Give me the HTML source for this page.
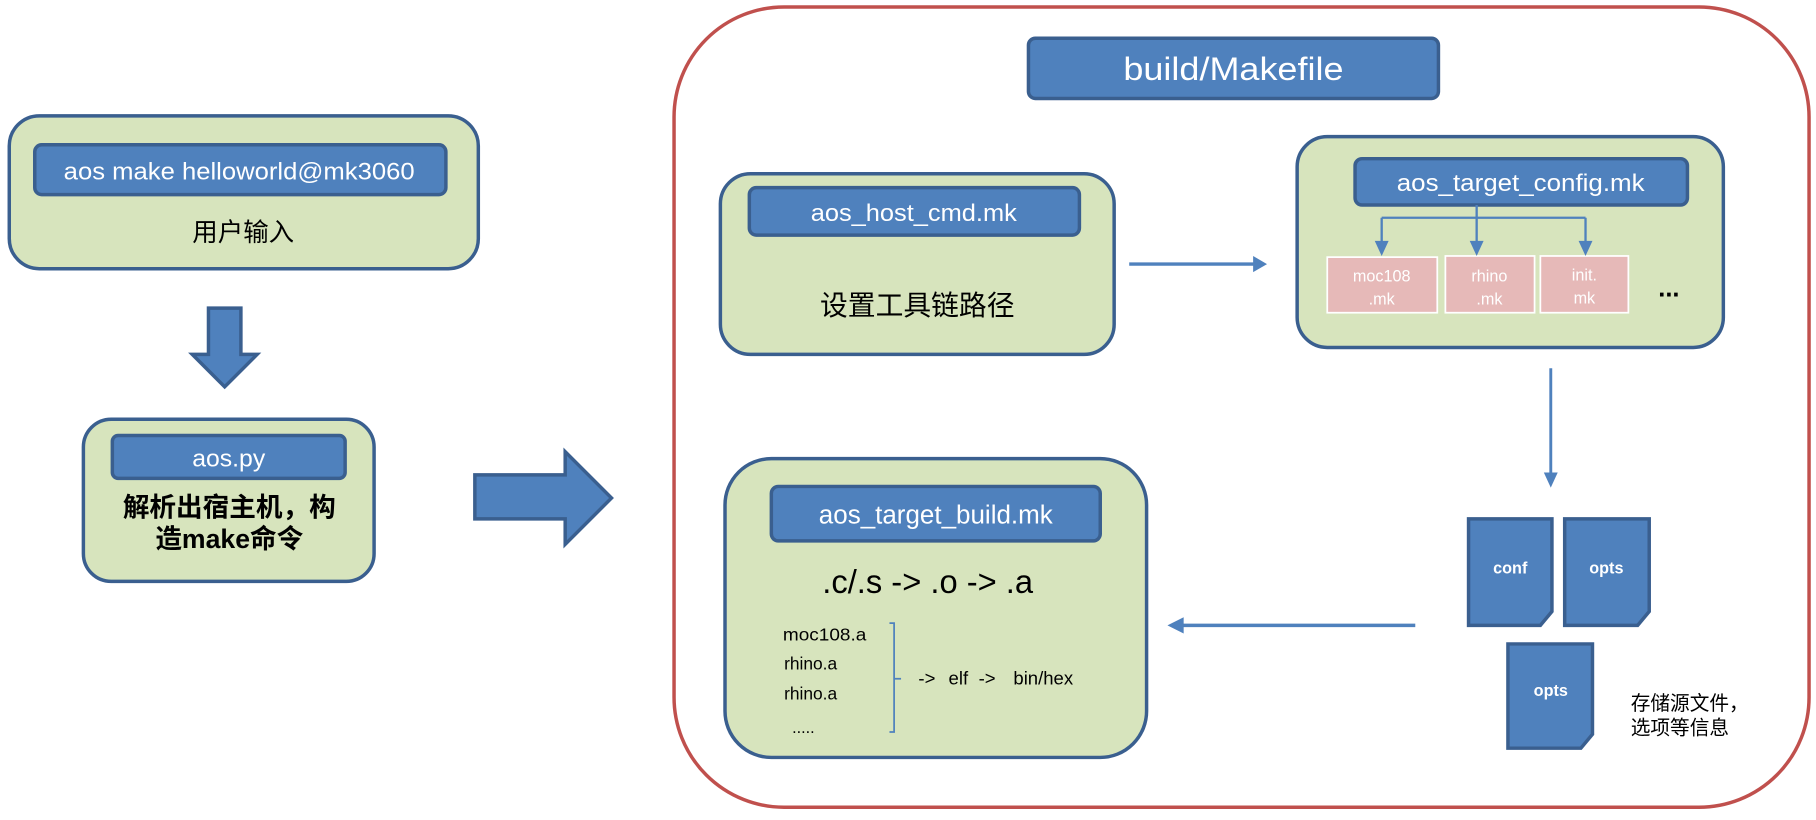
<!DOCTYPE html>
<html><head><meta charset="utf-8"><style>html,body{margin:0;padding:0;background:#fff;width:1816px;height:820px;overflow:hidden}svg text{font-family:"Liberation Sans","Noto Sans CJK SC",sans-serif}</style></head><body>
<svg width="1816" height="820" viewBox="0 0 1568 708" xmlns="http://www.w3.org/2000/svg">
<g stroke="#3a5f8f" stroke-width="3">
<rect x="8" y="100" width="405" height="132" rx="26" fill="#d7e4bd"/>
<rect x="30" y="125" width="355" height="43" rx="6" fill="#4f81bd"/>
<path d="M180 266 H208 V306 H222 L194 334 L166 306 H180 Z" fill="#4f81bd"/>
<rect x="72" y="362" width="251" height="140" rx="24" fill="#d7e4bd"/>
<rect x="97" y="376" width="201" height="37" rx="5" fill="#4f81bd"/>
<path d="M410 410 H488 V390 L528 430 L488 470 V448 H410 Z" fill="#4f81bd"/>
</g>
<rect x="582" y="6" width="980" height="691" rx="95" fill="none" stroke="#c0504d" stroke-width="3"/>
<g stroke="#3a5f8f" stroke-width="3">
<rect x="888" y="33" width="354" height="52" rx="6" fill="#4f81bd"/>
<rect x="622" y="150" width="340" height="156" rx="26" fill="#d7e4bd"/>
<rect x="647" y="162" width="285" height="41" rx="6" fill="#4f81bd"/>
<rect x="1120" y="118" width="368" height="182" rx="26" fill="#d7e4bd"/>
<rect x="1170" y="137" width="287" height="40" rx="6" fill="#4f81bd"/>
<rect x="626" y="396" width="364" height="258" rx="40" fill="#d7e4bd"/>
<rect x="666" y="420" width="284" height="47" rx="6" fill="#4f81bd"/>
<path d="M1268 448 H1340 V528 L1330 540 H1268 Z" fill="#4f81bd"/>
<path d="M1351 448 H1424 V528 L1414 540 H1351 Z" fill="#4f81bd"/>
<path d="M1302 556 H1375 V634 L1365 646 H1302 Z" fill="#4f81bd"/>
</g>
<g fill="#e6b9b8" stroke="#fff" stroke-width="1.5">
<rect x="1146" y="222" width="95" height="48"/>
<rect x="1248" y="221" width="77" height="49"/>
<rect x="1330" y="221" width="76" height="49"/>
</g>
<g stroke="#4f81bd" stroke-width="2" fill="none">
<path d="M1275 177 V212 M1193 188 H1369 M1193 188 V210 M1369 188 V210"/>
<path d="M975 228 H1084" stroke-width="3"/>
<path d="M1339 318 V410" stroke-width="2.5"/>
<path d="M1020 540 H1222" stroke-width="3"/>
<path d="M768 538 H772 V632 H768 M772 586 H778" stroke-width="1.5"/>
</g>
<g fill="#4f81bd">
<path d="M1187 208 H1199 L1193 221 Z M1269 208 H1281 L1275 221 Z M1363 208 H1375 L1369 221 Z"/>
<path d="M1082 221 L1094 228 L1082 235 Z"/>
<path d="M1333 408 L1345 408 L1339 421 Z"/>
<path d="M1022 533 L1008 540 L1022 547 Z"/>
</g>
<g fill="#fff">
<text x="55" y="155" font-size="21" textLength="303" lengthAdjust="spacingAndGlyphs">aos make helloworld@mk3060</text>
<text x="166" y="403" font-size="21" textLength="63" lengthAdjust="spacingAndGlyphs">aos.py</text>
<text x="970" y="69" font-size="28" textLength="190" lengthAdjust="spacingAndGlyphs">build/Makefile</text>
<text x="700" y="191" font-size="21" textLength="178" lengthAdjust="spacingAndGlyphs">aos_host_cmd.mk</text>
<text x="1206" y="165" font-size="21" textLength="214" lengthAdjust="spacingAndGlyphs">aos_target_config.mk</text>
<text x="707" y="452" font-size="22" textLength="202" lengthAdjust="spacingAndGlyphs">aos_target_build.mk</text>
<g text-anchor="middle">
<text x="1193" y="243" font-size="14">moc108</text><text x="1193" y="263" font-size="14">.mk</text>
<text x="1286" y="243" font-size="14">rhino</text><text x="1286" y="263" font-size="14">.mk</text>
<text x="1368" y="242" font-size="14">init.</text><text x="1368" y="262" font-size="14">mk</text>
<g font-weight="bold" font-size="14"><text x="1304" y="495">conf</text><text x="1387" y="495">opts</text><text x="1339" y="601">opts</text></g>
</g>
</g>
<g fill="#000" text-anchor="middle">
<text x="210" y="208" font-size="22">用户输入</text>
<text x="198" y="446" font-size="23" font-weight="bold">解析出宿主机，构</text>
<text x="198" y="473" font-size="23" font-weight="bold">造make命令</text>
<text x="792" y="272" font-size="24">设置工具链路径</text>
<text x="1441" y="256" font-size="22" font-weight="bold">...</text>
</g>
<g fill="#000">
<text x="710" y="512" font-size="29" textLength="182" lengthAdjust="spacingAndGlyphs">.c/.s -&gt; .o -&gt; .a</text>
<text x="676" y="553" font-size="15" textLength="72" lengthAdjust="spacingAndGlyphs">moc108.a</text>
<text x="677" y="578" font-size="15">rhino.a</text>
<text x="677" y="604" font-size="15">rhino.a</text>
<text x="684" y="633" font-size="14">.....</text>
<text y="591" font-size="16"><tspan x="793">-&gt;</tspan><tspan x="819">elf</tspan><tspan x="845">-&gt;</tspan><tspan x="875">bin/hex</tspan></text>
<text x="1408" y="613" font-size="17">存储源文件，</text>
<text x="1408" y="634" font-size="17">选项等信息</text>
</g>
</svg>
</body></html>
